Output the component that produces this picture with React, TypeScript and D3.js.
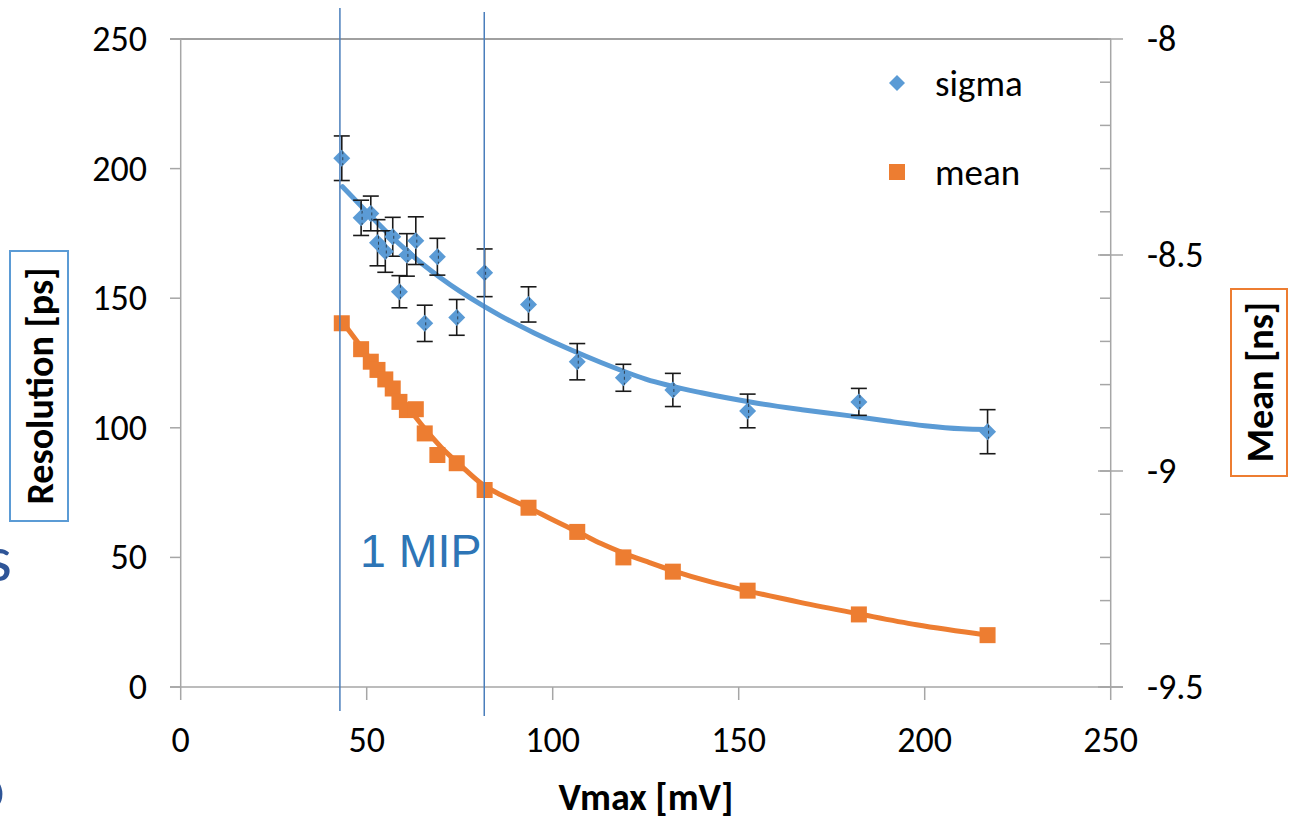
import React from "react";
import * as d3 from "d3";

// ---- data ----
const vmax = [43.3, 48.5, 51.1, 52.9, 55.0, 57.0, 58.8, 60.8, 63.2, 65.6, 69.0, 74.2, 81.7, 93.5, 106.6, 119.0, 132.3, 152.4, 182.3, 216.9];
const sigmaVals = [204, 181, 182.7, 171.4, 168, 173.7, 152.5, 166.7, 172.2, 140.3, 166, 142.6, 159.8, 147.6, 125.5, 119.3, 114.6, 106.5, 110, 98.5];
const sigmaErr = [8.6, 6.8, 6.7, 8.9, 8, 7.5, 6.2, 8.2, 9.2, 7, 7.1, 6.9, 9.2, 6.8, 7, 5.2, 6.4, 6.5, 5.2, 8.5];
const meanVals = [-8.658, -8.718, -8.747, -8.766, -8.788, -8.809, -8.84, -8.859, -8.857, -8.913, -8.963, -8.982, -9.044, -9.085, -9.141, -9.2, -9.233, -9.277, -9.332, -9.38];

// trendline samples
const sigmaFitV = [43.5, 50, 55, 60, 65, 70, 75, 81, 86, 95, 105, 113, 125, 140, 155, 167, 180, 190, 200, 210, 217];
const sigmaFitR = [193, 183.3, 176, 169.3, 163.2, 157.7, 152.7, 147.3, 143.2, 136.6, 130, 125.2, 118.8, 113.5, 109.5, 107, 104.6, 102.6, 100.8, 99.6, 99.3];
const meanFitV = [43.5, 48.8, 53, 57, 61, 65.9, 70, 75, 81.3, 86, 93.6, 100, 107, 113, 119, 126, 132, 143, 152.6, 166.5, 182.4, 197.8, 216.9];
const meanFitM = [-8.655, -8.716, -8.765, -8.81, -8.852, -8.905, -8.945, -8.985, -9.032, -9.055, -9.085, -9.113, -9.142, -9.168, -9.19, -9.212, -9.23, -9.258, -9.278, -9.304, -9.331, -9.356, -9.38];

const mipLines = [42.8, 81.6];
const xTicks = [0, 50, 100, 150, 200, 250];
const yLeftTicks = [0, 50, 100, 150, 200, 250];
const yRightTicks = [-9.5, -9, -8.5, -8];
const yRightLabels = ["-9.5", "-9", "-8.5", "-8"];

const BLUE = "#5b9bd5";
const ORANGE = "#ed7d31";
const AXIS = "#a6a6a6";
const FONT = "Carlito, Lato, 'Open Sans', sans-serif";

export default function App() {
  const x = d3.scaleLinear().domain([0, 250]).range([180.7, 1110.7]);
  const yL = d3.scaleLinear().domain([0, 250]).range([687, 39]);
  const yR = d3.scaleLinear().domain([-9.5, -8]).range([687, 39]);

  const sigmaFit = d3
    .line<number>()
    .x((v) => x(v))
    .y((_, i) => yL(sigmaFitR[i]))
    .curve(d3.curveMonotoneX)(sigmaFitV) as string;
  const meanFit = d3
    .line<number>()
    .x((v) => x(v))
    .y((_, i) => yR(meanFitM[i]))
    .curve(d3.curveMonotoneX)(meanFitV) as string;

  const minorRight = d3.range(-9.5, -7.99, 0.1).map((v) => +v.toFixed(2));
  const diamond = (cx: number, cy: number, r: number) =>
    `M${cx},${cy - r}L${cx + r},${cy}L${cx},${cy + r}L${cx - r},${cy}Z`;

  return (
    <svg
      width={1289}
      height={817}
      style={{ position: "absolute", left: 0, top: 0, background: "#fff" }}
      fontFamily={FONT}
    >
      <rect width={1289} height={817} fill="#fff" />

      {/* partial slide text at left edge */}
      <text x={-14} y={581} fontSize={66} fill="#2f5597" fontFamily={FONT}>s</text>
      <text x={-30} y={810} fontSize={66} fill="#2f5597" fontFamily={FONT}>o</text>

      {/* top border line */}
      <line x1={170} x2={1110.7} y1={39} y2={39} stroke="#808080" strokeWidth={1.5} />
      {/* axes */}
      <line x1={x(0)} x2={x(0)} y1={39} y2={687} stroke={AXIS} strokeWidth={1.5} />
      <line x1={x(250)} x2={x(250)} y1={39} y2={687} stroke={AXIS} strokeWidth={1.5} />
      <line x1={170} x2={1123} y1={687} y2={687} stroke={AXIS} strokeWidth={1.5} />

      {/* left ticks */}
      {yLeftTicks.map((t) => (
        <g key={"yl" + t}>
          <line x1={170} x2={x(0)} y1={yL(t)} y2={yL(t)} stroke={AXIS} strokeWidth={1.5} />
          <text x={147} y={yL(t)} textAnchor="end" dominantBaseline="central" fontSize={36} fill="#000">
            {t}
          </text>
        </g>
      ))}
      {/* bottom ticks */}
      {xTicks.map((t) => (
        <g key={"x" + t}>
          <line x1={x(t)} x2={x(t)} y1={687} y2={700} stroke={AXIS} strokeWidth={1.5} />
          <text x={x(t)} y={740} textAnchor="middle" dominantBaseline="central" fontSize={36} fill="#000">
            {t}
          </text>
        </g>
      ))}
      {/* right ticks */}
      {minorRight.map((t) => (
        <line key={"mr" + t} x1={1100} x2={x(250)} y1={yR(t)} y2={yR(t)} stroke={AXIS} strokeWidth={1.5} />
      ))}
      {yRightTicks.map((t, i) => (
        <g key={"yr" + t}>
          <line x1={1098} x2={1123} y1={yR(t)} y2={yR(t)} stroke={AXIS} strokeWidth={1.5} />
          <text x={1147} y={yR(t)} textAnchor="start" dominantBaseline="central" fontSize={36} fill="#000">
            {yRightLabels[i]}
          </text>
        </g>
      ))}

      {/* axis titles */}
      <text x={646} y={797} textAnchor="middle" dominantBaseline="central" fontSize={38} fontWeight="bold" fill="#000">
        Vmax [mV]
      </text>
      <rect x={10} y={251} width={58} height={270} fill="none" stroke={BLUE} strokeWidth={2} />
      <text
        transform={`translate(40,386) rotate(-90)`}
        textAnchor="middle"
        dominantBaseline="central"
        fontSize={38}
        fontWeight="bold"
        fill="#000"
      >
        Resolution [ps]
      </text>
      <rect x={1231} y={289} width={56} height={187} fill="none" stroke={ORANGE} strokeWidth={2} />
      <text
        transform={`translate(1260,382) rotate(-90)`}
        textAnchor="middle"
        dominantBaseline="central"
        fontSize={38}
        fontWeight="bold"
        fill="#000"
      >
        Mean [ns]
      </text>

      {/* trendlines */}
      <path d={sigmaFit} fill="none" stroke={BLUE} strokeWidth={5} strokeLinecap="round" />
      <path d={meanFit} fill="none" stroke={ORANGE} strokeWidth={5} strokeLinecap="round" />

      {/* mean squares */}
      {vmax.map((v, i) => (
        <rect key={"m" + i} x={x(v) - 8} y={yR(meanVals[i]) - 8} width={16} height={16} fill={ORANGE} />
      ))}

      {/* sigma error bars */}
      {vmax.map((v, i) => {
        const cx = x(v);
        const top = yL(sigmaVals[i] + sigmaErr[i]);
        const bot = yL(sigmaVals[i] - sigmaErr[i]);
        return (
          <g key={"e" + i} stroke="#1a1a1a" strokeWidth={1.6}>
            <line x1={cx} x2={cx} y1={top} y2={bot} />
            <line x1={cx - 8} x2={cx + 8} y1={top} y2={top} />
            <line x1={cx - 8} x2={cx + 8} y1={bot} y2={bot} />
          </g>
        );
      })}
      {/* sigma diamonds */}
      {vmax.map((v, i) => (
        <g key={"s" + i}>
          <path d={diamond(x(v), yL(sigmaVals[i]), 8.5)} fill={BLUE} />
          <line
            x1={x(v) + 1}
            x2={x(v) + 1}
            y1={yL(sigmaVals[i]) - 7}
            y2={yL(sigmaVals[i]) + 7}
            stroke="#1a1a1a"
            strokeWidth={1}
            strokeDasharray="3,3"
            opacity={0.7}
          />
        </g>
      ))}

      {/* 1 MIP lines */}
      <line x1={x(mipLines[0])} x2={x(mipLines[0])} y1={8} y2={711} stroke="#4a7ebb" strokeWidth={1.5} />
      <line x1={x(mipLines[1])} x2={x(mipLines[1])} y1={12} y2={716} stroke="#4a7ebb" strokeWidth={1.5} />
      <text x={360} y={567} fontSize={46.5} fill="#2e75b6" fontFamily="'Liberation Sans', Arial, sans-serif">
        1 MIP
      </text>

      {/* legend */}
      <path d={diamond(897, 83, 8)} fill={BLUE} />
      <text x={935} y={83} dominantBaseline="central" fontSize={37} fill="#000">sigma</text>
      <rect x={889} y={164} width={16} height={16} fill={ORANGE} />
      <text x={935} y={172} dominantBaseline="central" fontSize={37} fill="#000">mean</text>
    </svg>
  );
}
